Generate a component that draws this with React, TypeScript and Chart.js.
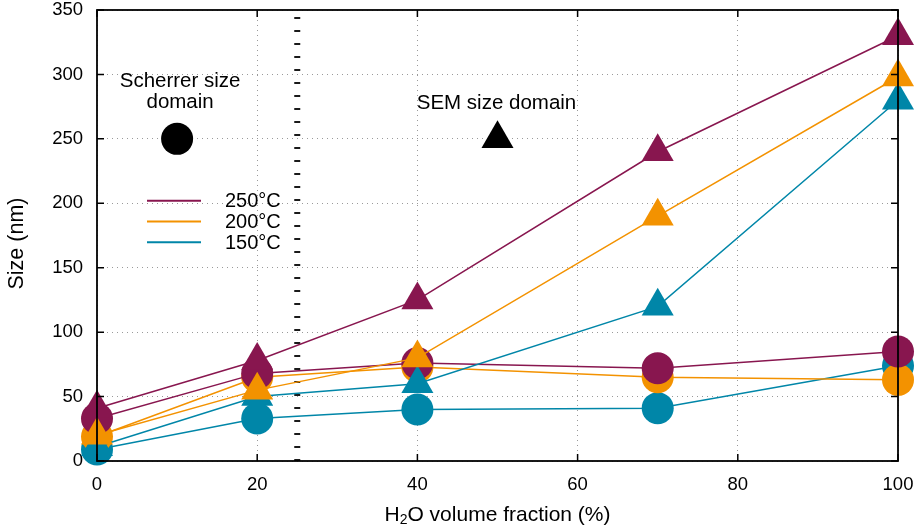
import React, { useEffect, useRef } from "react";
import { Chart, registerables } from "chart.js";

Chart.register(...registerables);

// ---- data ----
const xFractions = [0, 20, 40, 70, 100];
// SEM size domain (triangles)
const sem250 = [41, 78, 125, 240, 330];
const sem200 = [20, 55, 80, 190, 298];
const sem150 = [11, 50, 60, 120, 280];
// Scherrer size domain (circles)
const scherrer250 = [33, 68, 76, 72, 85];
const scherrer200 = [19, 65, 73, 65, 63];
const scherrer150 = [9, 33, 40, 41, 74];

const seriesLabels = ["250°C", "200°C", "150°C"];
const xTickValues = [0, 20, 40, 60, 80, 100];
const yTickValues = [0, 50, 100, 150, 200, 250, 300, 350];
const domainBoundaryX = [25, 25];
const domainBoundaryY = [0, 350];
const keyMarkerX = [10, 50];
const keyMarkerY = [250, 250];

const C250 = "#88164F";
const C200 = "#F39200";
const C150 = "#0086A8";
const seriesColors = [C250, C200, C150];

const FONT = "'Liberation Sans', Arial, Helvetica, sans-serif";

const pts = (xs: number[], ys: number[]) => xs.map((x, i) => ({ x, y: ys[i] }));

const decorPlugin = {
  id: "decor",
  afterDatasetsDraw(chart: any) {
    const { ctx, chartArea: a, scales } = chart;
    const xs = scales.x;
    const ys = scales.y;
    ctx.save();
    // inward ticks
    ctx.strokeStyle = "#000";
    ctx.lineWidth = 1.5;
    const tl = 7;
    ctx.beginPath();
    yTickValues.forEach((v) => {
      const y = ys.getPixelForValue(v);
      ctx.moveTo(a.left, y);
      ctx.lineTo(a.left + tl, y);
      ctx.moveTo(a.right, y);
      ctx.lineTo(a.right - tl, y);
    });
    xTickValues.forEach((v) => {
      const x = xs.getPixelForValue(v);
      ctx.moveTo(x, a.bottom);
      ctx.lineTo(x, a.bottom - tl);
      ctx.moveTo(x, a.top);
      ctx.lineTo(x, a.top + tl);
    });
    ctx.stroke();
    // frame
    ctx.lineWidth = 1.8;
    ctx.strokeRect(a.left, a.top, a.right - a.left, a.bottom - a.top);
    ctx.restore();
  },
  afterDraw(chart: any) {
    const { ctx, chartArea: a, scales } = chart;
    const xs = scales.x;
    ctx.save();
    ctx.fillStyle = "#000";
    // annotation texts
    ctx.font = `20.5px ${FONT}`;
    ctx.textAlign = "center";
    ctx.textBaseline = "alphabetic";
    const sx = xs.getPixelForValue(keyMarkerX[0]) + 3;
    ctx.fillText("Scherrer size", sx, a.top + 76.7);
    ctx.fillText("domain", sx, a.top + 98.3);
    ctx.fillText("SEM size domain", xs.getPixelForValue(keyMarkerX[1]) - 1, a.top + 99);

    // legend
    seriesLabels.forEach((lab, i) => {
      const y = a.top + 190.7 + i * 20.8;
      ctx.strokeStyle = seriesColors[i];
      ctx.lineWidth = 2;
      ctx.beginPath();
      ctx.moveTo(a.left + 50, y);
      ctx.lineTo(a.left + 104, y);
      ctx.stroke();
      ctx.font = `20px ${FONT}`;
      ctx.textAlign = "left";
      ctx.textBaseline = "middle";
      ctx.fillStyle = "#000";
      ctx.fillText(lab, a.left + 128, y + 1);
    });

    // y title
    ctx.save();
    ctx.translate(17, (a.top + a.bottom) / 2 + 8);
    ctx.rotate(-Math.PI / 2);
    ctx.font = `21.5px ${FONT}`;
    ctx.textAlign = "center";
    ctx.textBaseline = "middle";
    ctx.fillText("Size (nm)", 0, 0);
    ctx.restore();

    // x title with subscript
    const big = `21px ${FONT}`;
    const small = `14px ${FONT}`;
    const p1 = "H", p2 = "2", p3 = "O volume fraction (%)";
    ctx.font = big;
    const w1 = ctx.measureText(p1).width;
    const w3 = ctx.measureText(p3).width;
    ctx.font = small;
    const w2 = ctx.measureText(p2).width;
    const total = w1 + w2 + w3;
    const x0 = (a.left + a.right) / 2 - total / 2;
    const base = 520.5;
    ctx.textAlign = "left";
    ctx.textBaseline = "alphabetic";
    ctx.font = big;
    ctx.fillText(p1, x0, base);
    ctx.font = small;
    ctx.fillText(p2, x0 + w1, base + 3.5);
    ctx.font = big;
    ctx.fillText(p3, x0 + w1 + w2, base);
    ctx.restore();
  },
};

export default function App() {
  const ref = useRef<HTMLCanvasElement | null>(null);

  useEffect(() => {
    if (!ref.current) return;
    const common = {
      showLine: true,
      borderWidth: 1.5,
      pointBorderWidth: 0,
      clip: false as any,
    };
    const tri = (label: string, ys: number[], color: string, order: number) => ({
      ...common,
      label,
      data: pts(xFractions, ys),
      borderColor: color,
      backgroundColor: color,
      pointBackgroundColor: color,
      pointStyle: "triangle",
      pointRadius: 18.5,
      pointHoverRadius: 18.5,
      order,
    });
    const circ = (label: string, ys: number[], color: string, order: number) => ({
      ...common,
      label,
      data: pts(xFractions, ys),
      borderColor: color,
      backgroundColor: color,
      pointBackgroundColor: color,
      pointStyle: "circle",
      pointRadius: 16,
      pointHoverRadius: 16,
      order,
    });

    const chart = new Chart(ref.current, {
      type: "scatter",
      data: {
        datasets: [
          tri("SEM 250°C", sem250, C250, 0),
          tri("SEM 200°C", sem200, C200, 1),
          tri("SEM 150°C", sem150, C150, 2),
          circ("Scherrer 250°C", scherrer250, C250, 3),
          circ("Scherrer 200°C", scherrer200, C200, 4),
          circ("Scherrer 150°C", scherrer150, C150, 5),
          {
            label: "Scherrer key",
            data: [{ x: keyMarkerX[0], y: keyMarkerY[0] }],
            showLine: false,
            pointStyle: "circle",
            pointRadius: 16,
            pointHoverRadius: 16,
            pointBorderWidth: 0,
            backgroundColor: "#000",
            pointBackgroundColor: "#000",
            order: 6,
          },
          {
            label: "SEM key",
            data: [{ x: keyMarkerX[1], y: keyMarkerY[1] }],
            showLine: false,
            pointStyle: "triangle",
            pointRadius: 18.5,
            pointHoverRadius: 18.5,
            pointBorderWidth: 0,
            backgroundColor: "#000",
            pointBackgroundColor: "#000",
            order: 7,
          },
          {
            label: "boundary",
            data: pts(domainBoundaryX, domainBoundaryY),
            showLine: true,
            pointRadius: 0,
            borderColor: "#1a1a1a",
            borderWidth: 6,
            borderDash: [2, 11],
            borderCapStyle: "butt",
            order: 10,
          },
        ] as any,
      },
      options: {
        animation: false,
        responsive: false,
        devicePixelRatio: 1,
        events: [],
        layout: { autoPadding: false, padding: { left: 0, top: 10, right: 22, bottom: 0 } },
        plugins: {
          legend: { display: false },
          tooltip: { enabled: false },
        },
        scales: {
          x: {
            type: "linear",
            min: 0,
            max: 100,
            afterBuildTicks: (s: any) => {
              s.ticks = xTickValues.map((v) => ({ value: v }));
            },
            afterFit: (s: any) => {
              s.height = 70;
              s.paddingLeft = 0;
              s.paddingRight = 0;
              s.paddingTop = 0;
              s.paddingBottom = 0;
            },
            grid: { color: "#9a9a9a", lineWidth: 1, drawTicks: true, tickLength: 15, tickColor: "rgba(0,0,0,0)" },
            border: { display: false, dash: [1, 4] },
            ticks: {
              color: "#000",
              padding: 0,
              maxRotation: 0,
              font: { family: FONT, size: 18.5, lineHeight: 1 },
            },
          },
          y: {
            type: "linear",
            min: 0,
            max: 350,
            afterBuildTicks: (s: any) => {
              s.ticks = yTickValues.map((v) => ({ value: v }));
            },
            afterFit: (s: any) => {
              s.width = 97;
              s.paddingLeft = 0;
              s.paddingRight = 0;
              s.paddingTop = 0;
              s.paddingBottom = 0;
            },
            grid: { color: "#9a9a9a", lineWidth: 1, drawTicks: true, tickLength: 14, tickColor: "rgba(0,0,0,0)" },
            border: { display: false, dash: [1, 4] },
            ticks: {
              color: "#000",
              padding: 0,
              font: { family: FONT, size: 18.5, lineHeight: 1 },
            },
          },
        },
      } as any,
      plugins: [decorPlugin],
    });
    return () => chart.destroy();
  }, []);

  return (
    <div style={{ position: "absolute", left: 0, top: 0, width: 920, height: 531 }}>
      <canvas ref={ref} width={920} height={531} style={{ display: "block" }} />
    </div>
  );
}
